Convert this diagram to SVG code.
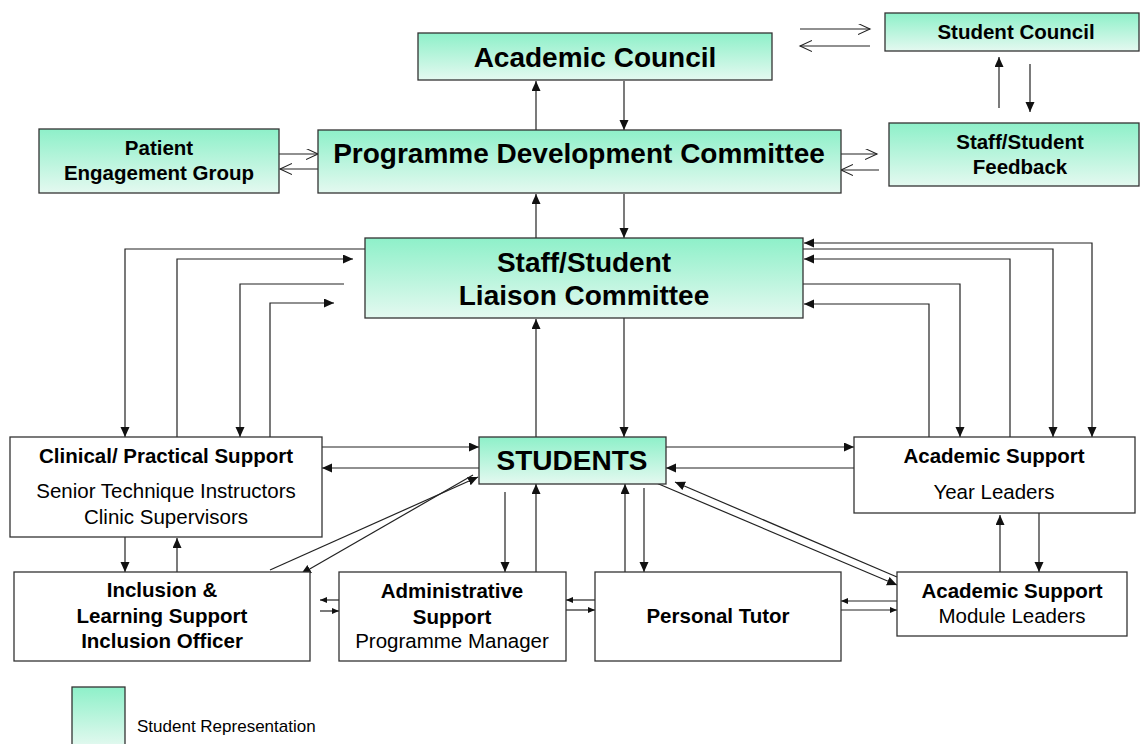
<svg xmlns="http://www.w3.org/2000/svg" width="1140" height="744" viewBox="0 0 1140 744">
<style>
.box{stroke:#333;stroke-width:1.3}
.g{fill:url(#mint)}
.w{fill:#fff}
.c{fill:none;stroke:#222;stroke-width:1.2}
.big{font-family:"Liberation Sans",Arial,sans-serif;font-weight:bold;font-size:28px;fill:#000;text-anchor:middle}
.b{font-family:"Liberation Sans",Arial,sans-serif;font-weight:bold;font-size:20.5px;fill:#000;text-anchor:middle}
.r{font-family:"Liberation Sans",Arial,sans-serif;font-size:20.5px;fill:#000;text-anchor:middle}
.leg{font-family:"Liberation Sans",Arial,sans-serif;font-size:17px;fill:#000}
</style>
<defs>
<linearGradient id="mint" x1="0" y1="0" x2="0" y2="1">
<stop offset="0" stop-color="#8ef0c9"/>
<stop offset="1" stop-color="#e4f9f0"/>
</linearGradient>
<marker id="a" markerUnits="userSpaceOnUse" markerWidth="12" markerHeight="10" refX="10" refY="4.5" orient="auto-start-reverse">
<path d="M0,0 L10,4.5 L0,9 z" fill="#111"/>
</marker>
<marker id="s" markerUnits="userSpaceOnUse" markerWidth="9" markerHeight="8" refX="7" refY="3" orient="auto-start-reverse">
<path d="M0,0 L7,3 L0,6 z" fill="#111"/>
</marker>
<marker id="o" markerUnits="userSpaceOnUse" markerWidth="14" markerHeight="12" refX="12" refY="5.5" orient="auto">
<path d="M0,0 L12,5.5 L0,11" fill="none" stroke="#222" stroke-width="1.1"/>
</marker>
</defs>

<g id="connectors">
<path class="c" d="M536,130 V81" marker-end="url(#a)"/>
<path class="c" d="M624,81 V130" marker-end="url(#a)"/>
<path class="c" d="M536,238 V194" marker-end="url(#a)"/>
<path class="c" d="M624,194 V238" marker-end="url(#a)"/>
<path class="c" d="M279,154 H318" marker-end="url(#o)"/>
<path class="c" d="M318,169 H280" marker-end="url(#o)"/>
<path class="c" d="M841,154 H877" marker-end="url(#o)"/>
<path class="c" d="M879,170 H841" marker-end="url(#o)"/>
<path class="c" d="M800,29 H870" marker-end="url(#o)"/>
<path class="c" d="M870,46 H800" marker-end="url(#o)"/>
<path class="c" d="M999,108 V57" marker-end="url(#a)"/>
<path class="c" d="M1030,64 V112" marker-end="url(#a)"/>

<path class="c" d="M365,249 H125 V437" marker-end="url(#a)"/>
<path class="c" d="M177,437 V259 H353" marker-end="url(#a)"/>
<path class="c" d="M344,284 H240 V437" marker-end="url(#a)"/>
<path class="c" d="M270,437 V303 H334" marker-end="url(#a)"/>

<path class="c" d="M804,243 H1092 V437" marker-start="url(#a)" marker-end="url(#a)"/>
<path class="c" d="M803,249 H1053 V437" marker-end="url(#a)"/>
<path class="c" d="M1010,437 V259 H804" marker-end="url(#a)"/>
<path class="c" d="M801,284 H960 V437" marker-end="url(#a)"/>
<path class="c" d="M929,437 V304 H804" marker-end="url(#a)"/>

<path class="c" d="M536,437 V319" marker-end="url(#a)"/>
<path class="c" d="M624,315 V437" marker-end="url(#a)"/>
<path class="c" d="M322,447 H479" marker-end="url(#a)"/>
<path class="c" d="M479,468 H322" marker-end="url(#a)"/>
<path class="c" d="M666,447 H854" marker-end="url(#a)"/>
<path class="c" d="M854,468 H666" marker-end="url(#a)"/>
<path class="c" d="M125,537 V572" marker-end="url(#a)"/>
<path class="c" d="M177,572 V538" marker-end="url(#a)"/>
<path class="c" d="M270,570 L478,477" marker-end="url(#a)"/>
<path class="c" d="M473,475 L301,574" marker-end="url(#a)"/>
<path class="c" d="M339,600 H320" marker-end="url(#s)"/>
<path class="c" d="M320,611 H339" marker-end="url(#s)"/>
<path class="c" d="M505,492 V572" marker-end="url(#a)"/>
<path class="c" d="M536,572 V484" marker-end="url(#a)"/>
<path class="c" d="M625,572 V484" marker-end="url(#a)"/>
<path class="c" d="M644,488 V572" marker-end="url(#a)"/>
<path class="c" d="M595,600 H566" marker-end="url(#s)"/>
<path class="c" d="M566,610 H595" marker-end="url(#s)"/>
<path class="c" d="M654,482 L897,585" marker-end="url(#a)"/>
<path class="c" d="M897,577 L675,482" marker-end="url(#a)"/>
<path class="c" d="M897,601 H841" marker-end="url(#s)"/>
<path class="c" d="M841,610 H897" marker-end="url(#s)"/>
<path class="c" d="M1000,572 V515" marker-end="url(#a)"/>
<path class="c" d="M1039,513 V572" marker-end="url(#a)"/>
</g>

<g id="academic-council">
<rect class="box g" x="418" y="33" width="354" height="47"/>
<text class="big" x="595" y="67">Academic Council</text>
</g>
<g id="student-council">
<rect class="box g" x="885" y="13" width="254" height="38"/>
<text class="b" x="1016" y="39">Student Council</text>
</g>
<g id="patient-engagement">
<rect class="box g" x="39" y="129" width="240" height="64"/>
<text class="b" x="159" y="155">Patient</text>
<text class="b" x="159" y="180">Engagement Group</text>
</g>
<g id="programme-development">
<rect class="box g" x="318" y="130" width="523" height="63"/>
<text class="big" x="579" y="163">Programme Development Committee</text>
</g>
<g id="staff-student-feedback">
<rect class="box g" x="889" y="123" width="250" height="63"/>
<text class="b" x="1020" y="149">Staff/Student</text>
<text class="b" x="1020" y="174">Feedback</text>
</g>
<g id="liaison-committee">
<rect class="box g" x="365" y="238" width="438" height="80"/>
<text class="big" x="584" y="272">Staff/Student</text>
<text class="big" x="584" y="305">Liaison Committee</text>
</g>
<g id="clinical-support">
<rect class="box w" x="10" y="437" width="312" height="100"/>
<text class="b" x="166" y="463">Clinical/ Practical Support</text>
<text class="r" x="166" y="498">Senior Technique Instructors</text>
<text class="r" x="166" y="524">Clinic Supervisors</text>
</g>
<g id="students">
<rect class="box g" x="479" y="437" width="187" height="47"/>
<text class="big" x="572" y="470">STUDENTS</text>
</g>
<g id="academic-support-year">
<rect class="box w" x="854" y="437" width="281" height="76"/>
<text class="b" x="994" y="463">Academic Support</text>
<text class="r" x="994" y="499">Year Leaders</text>
</g>
<g id="inclusion">
<rect class="box w" x="14" y="572" width="296" height="89"/>
<text class="b" x="162" y="597">Inclusion &amp;</text>
<text class="b" x="162" y="623">Learning Support</text>
<text class="b" x="162" y="648">Inclusion Officer</text>
</g>
<g id="administrative-support">
<rect class="box w" x="339" y="572" width="227" height="89"/>
<text class="b" x="452" y="598">Administrative</text>
<text class="b" x="452" y="624">Support</text>
<text class="r" x="452" y="648">Programme Manager</text>
</g>
<g id="personal-tutor">
<rect class="box w" x="595" y="572" width="246" height="89"/>
<text class="b" x="718" y="623">Personal Tutor</text>
</g>
<g id="academic-support-module">
<rect class="box w" x="897" y="572" width="230" height="64"/>
<text class="b" x="1012" y="598">Academic Support</text>
<text class="r" x="1012" y="623">Module Leaders</text>
</g>
<g id="legend">
<rect class="box g" x="72" y="687" width="53" height="60"/>
<text class="leg" x="137" y="732">Student Representation</text>
</g>
</svg>
